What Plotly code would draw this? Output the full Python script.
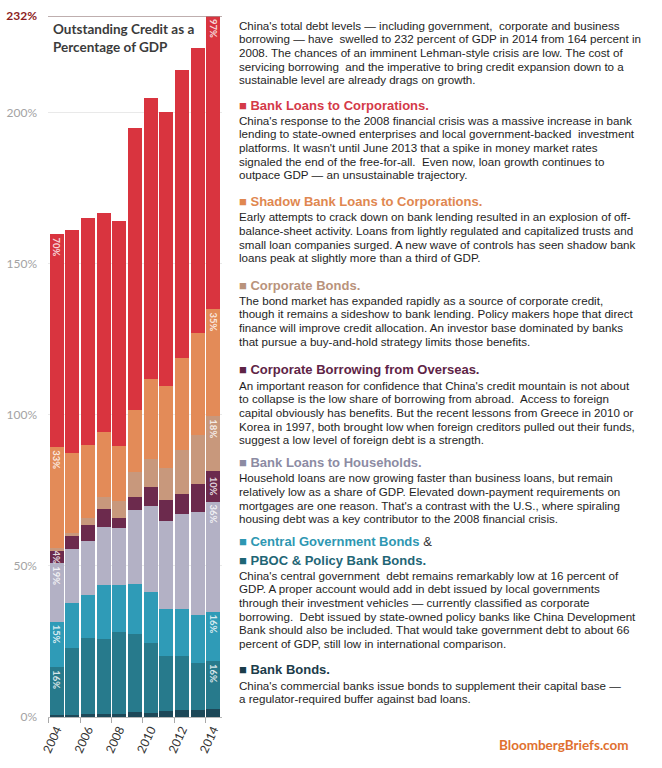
import plotly.graph_objects as go

# ---------------- data (percent of GDP) ----------------
years = [2004, 2005, 2006, 2007, 2008, 2009, 2010, 2011, 2012, 2013, 2014]
bank_bonds = [0.5, 0.8, 1.0, 1.0, 1.0, 1.5, 1.3, 2.0, 2.3, 2.2, 2.5]
pboc_policy_bank_bonds = [16.0, 21.9, 25.3, 24.8, 27.2, 25.9, 23.3, 18.2, 17.9, 15.7, 16.0]
central_gov_bonds = [15.0, 14.9, 14.0, 17.9, 15.6, 16.7, 16.8, 15.5, 15.5, 16.0, 16.4]
household_loans = [19.4, 18.0, 18.0, 19.1, 18.8, 24.3, 28.4, 29.3, 31.5, 33.9, 36.4]
overseas_borrowing = [4.0, 4.2, 5.4, 6.0, 3.4, 4.3, 6.2, 6.8, 6.6, 9.2, 10.2]
corporate_bonds = [1.0, 1.2, 2.3, 4.0, 5.6, 8.3, 9.3, 10.5, 14.5, 16.2, 18.0]
shadow_bank_loans = [33.4, 26.4, 23.9, 21.5, 18.0, 20.5, 26.7, 27.2, 30.4, 33.8, 35.4]
bank_loans_corporations = [70.4, 73.8, 75.3, 72.6, 74.7, 93.5, 93.0, 90.8, 95.3, 94.5, 97.1]

tick_years = [2004, 2006, 2008, 2010, 2012, 2014]
y_ticks = [0, 50, 100, 150, 200]
label_first_last = [0, 10]

chart_title = "Outstanding Credit as a<br>Percentage of GDP"
source_text = "BloombergBriefs.com"

intro = [
    "China's total debt levels — including government,  corporate and business",
    "borrowing — have  swelled to 232 percent of GDP in 2014 from 164 percent in",
    "2008. The chances of an imminent Lehman-style crisis are low. The cost of",
    "servicing borrowing  and the imperative to bring credit expansion down to a",
    "sustainable level are already drags on growth.",
]
sections = [
    ("Bank Loans to Corporations.", "#d43a48", [
        "China's response to the 2008 financial crisis was a massive increase in bank",
        "lending to state-owned enterprises and local government-backed  investment",
        "platforms. It wasn't until June 2013 that a spike in money market rates",
        "signaled the end of the free-for-all.  Even now, loan growth continues to",
        "outpace GDP — an unsustainable trajectory.",
    ]),
    ("Shadow Bank Loans to Corporations.", "#e08750", [
        "Early attempts to crack down on bank lending resulted in an explosion of off-",
        "balance-sheet activity. Loans from lightly regulated and capitalized trusts and",
        "small loan companies surged. A new wave of controls has seen shadow bank",
        "loans peak at slightly more than a third of GDP.",
    ]),
    ("Corporate Bonds.", "#b9937c", [
        "The bond market has expanded rapidly as a source of corporate credit,",
        "though it remains a sideshow to bank lending. Policy makers hope that direct",
        "finance will improve credit allocation. An investor base dominated by banks",
        "that pursue a buy-and-hold strategy limits those benefits.",
    ]),
    ("Corporate Borrowing from Overseas.", "#5e2446", [
        "An important reason for confidence that China's credit mountain is not about",
        "to collapse is the low share of borrowing from abroad.  Access to foreign",
        "capital obviously has benefits. But the recent lessons from Greece in 2010 or",
        "Korea in 1997, both brought low when foreign creditors pulled out their funds,",
        "suggest a low level of foreign debt is a strength.",
    ]),
    ("Bank Loans to Households.", "#8c8ba3", [
        "Household loans are now growing faster than business loans, but remain",
        "relatively low as a share of GDP. Elevated down-payment requirements on",
        "mortgages are one reason. That's a contrast with the U.S., where spiraling",
        "housing debt was a key contributor to the 2008 financial crisis.",
    ]),
    ("Central Government Bonds", "#2e97b2", []),
    ("PBOC & Policy Bank Bonds.", "#1f6676", [
        "China's central government  debt remains remarkably low at 16 percent of",
        "GDP. A proper account would add in debt issued by local governments",
        "through their investment vehicles — currently classified as corporate",
        "borrowing.  Debt issued by state-owned policy banks like China Development",
        "Bank should also be included. That would take government debt to about 66",
        "percent of GDP, still low in international comparison.",
    ]),
    ("Bank Bonds.", "#1b3c4a", [
        "China's commercial banks issue bonds to supplement their capital base —",
        "a regulator-required buffer against bad loans.",
    ]),
]

# ---------------- layout constants ----------------
W, H = 662, 768
PLOT_L, PLOT_R, PLOT_T, PLOT_B = 48, 222, 16, 717
TEXT_X = 237
LINE_STEP = 13.7
intro_y = 25
heading_y = [105, 201, 285, 370, 462.3, 541.7, 560, 669.3]
body_y = [120, 216.7, 300, 385, 477.7, None, 575, 685]
source_y = 745


def px(x):
    return x / W


def py(y):
    return 1 - y / H


# name, values, colour, labelled indexes, label anchor
series = [
    ("Bank Bonds", bank_bonds, "#1d4858", [], "end"),
    ("PBOC & Policy Bank Bonds", pboc_policy_bank_bonds, "#277a8c", label_first_last, "end"),
    ("Central Government Bonds", central_gov_bonds, "#2f9bb7", label_first_last, "end"),
    ("Bank Loans to Households", household_loans, "#b3b1c5", label_first_last, "end"),
    ("Corporate Borrowing from Overseas", overseas_borrowing, "#6c2a4d", label_first_last, "middle"),
    ("Corporate Bonds", corporate_bonds, "#c8987c", [10], "end"),
    ("Shadow Bank Loans to Corporations", shadow_bank_loans, "#e38b58", label_first_last, "end"),
    ("Bank Loans to Corporations", bank_loans_corporations, "#d9343f", label_first_last, "end"),
]

fig = go.Figure()
for name, vals, color, lab_idx, anchor in series:
    text = [f"<b>{v:.0f}%</b>" if i in lab_idx else "" for i, v in enumerate(vals)]
    fig.add_trace(go.Bar(
        x=years, y=vals, name=name,
        marker=dict(color=color, line=dict(width=0)),
        text=text, textposition="inside", insidetextanchor=anchor, textangle=90,
        textfont=dict(family="Lato", size=9.5, color="rgba(255,255,255,0.82)"),
        hovertemplate=name + " %{x}: %{y:.1f}%<extra></extra>",
    ))

totals = [sum(s[1][i] for s in series) for i in range(len(years))]
top_value = round(max(totals))

tickvals = y_ticks + [top_value]
ticktext = [f"{v}%" for v in y_ticks] + [f"<b><span style='color:#8c1c22'>{top_value}%</span></b>"]

x_dom = [px(PLOT_L), px(PLOT_R)]
y_dom = [(H - PLOT_B) / H, (H - PLOT_T) / H]

fig.update_layout(
    width=W, height=H,
    margin=dict(l=0, r=0, t=0, b=0),
    paper_bgcolor="white", plot_bgcolor="white",
    barmode="stack", bargap=0.11,
    showlegend=False,
    uniformtext=dict(minsize=9.5, mode="show"),
    xaxis=dict(
        domain=x_dom, range=[years[0] - 0.55, years[-1] + 0.55],
        tickvals=tick_years, ticktext=[str(y) for y in tick_years],
        tickangle=-65, tickfont=dict(family="Lato", size=12, color="#333333"),
        showgrid=False, showline=True, linecolor="#b8b8b8", linewidth=1,
        ticks="", zeroline=False, automargin=False,
        minor=dict(tickvals=[y - 0.5 for y in tick_years], ticks="outside",
                   ticklen=5, tickcolor="#a8a8a8", showgrid=False),
    ),
    yaxis=dict(
        domain=y_dom, range=[0, top_value],
        tickvals=tickvals, ticktext=ticktext,
        tickfont=dict(family="Lato", size=12, color="#a3a3a3"),
        showgrid=True, gridcolor="#e9e9e9", gridwidth=1,
        zeroline=False, showline=False, ticks="",
        ticklabelstandoff=10, automargin=False,
    ),
)

fig.add_shape(type="line", xref="paper", yref="y",
              x0=x_dom[0], x1=x_dom[1], y0=top_value, y1=top_value,
              line=dict(color="#a89393", width=1.5))

annotations = []
annotations.append(dict(
    x=px(51), y=py(19), xref="paper", yref="paper", xanchor="left", yanchor="top",
    align="left", showarrow=False, text=f"<b>{chart_title}</b>",
    font=dict(family="Lato", size=13.5, color="#3b3b3b"),
))


def body_lines(lines, y0):
    for k, line in enumerate(lines):
        annotations.append(dict(
            x=px(TEXT_X), y=py(y0 + k * LINE_STEP), xref="paper", yref="paper",
            xanchor="left", yanchor="middle", showarrow=False, text=line,
            font=dict(family="Liberation Sans", size=11.6, color="#1e1e1e"),
        ))


body_lines(intro, intro_y)
for (title, color, lines), hy, by in zip(sections, heading_y, body_y):
    extra = " <span style='color:#333333;font-weight:normal'>&</span>" if title == "Central Government Bonds" else ""
    annotations.append(dict(
        x=px(TEXT_X), y=py(hy), xref="paper", yref="paper",
        xanchor="left", yanchor="middle", showarrow=False,
        text=f"<span style='color:{color}'>■</span> <b>{title}</b>{extra}",
        font=dict(family="Liberation Sans", size=13, color=color),
    ))
    if lines:
        body_lines(lines, by)

annotations.append(dict(
    x=px(497), y=py(source_y), xref="paper", yref="paper", xanchor="left", yanchor="middle",
    showarrow=False, text=f"<b>{source_text}</b>",
    font=dict(family="Lato", size=13.5, color="#e0702f"),
))

fig.update_layout(annotations=annotations)
fig.write_html("out.html", config={"displayModeBar": False},
               post_script="document.body.style.margin='0px';")
